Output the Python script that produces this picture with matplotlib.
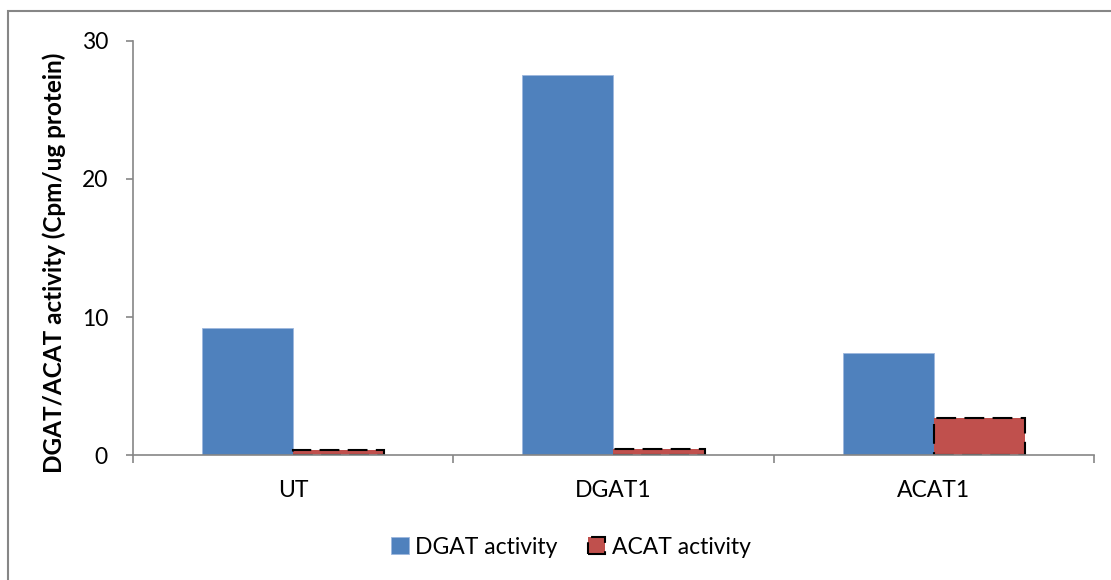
import numpy as np
import matplotlib
matplotlib.use("Agg")
from matplotlib import pyplot as plt
from matplotlib.patches import Rectangle

plt.rcParams['font.family'] = ['Lato', 'DejaVu Sans']

groups = ['UT', 'DGAT1', 'ACAT1']
dgat = [9.23, 27.5, 7.4]
acat = [0.36, 0.45, 2.68]
yticks = [0, 10, 20, 30]

blue = '#4F81BD'
red = '#C0504D'
grey = '#868686'

fig = plt.figure(figsize=(11.11, 5.8), dpi=100)
ax = fig.add_axes([0.1197, 0.215, 0.865, 0.715])

x = np.arange(len(groups))
w = 0.285
ax.bar(x - w / 2, dgat, w, color=blue, edgecolor='#9DB7DD', linewidth=0.6,
       label='DGAT activity')
ax.bar(x + w / 2, acat, w, color=red, edgecolor='black', linewidth=1.5,
       linestyle=(0, (9.5, 4)), label='ACAT activity')

ax.set_xlim(-0.5, 2.5)
ax.set_ylim(0, 30)
ax.set_yticks(yticks)
ax.set_xticks(x)
ax.set_xticklabels(groups)
ax.set_xticks([-0.5, 0.5, 1.5, 2.5], minor=True)

for side in ['top', 'right']:
    ax.spines[side].set_visible(False)
for side in ['left', 'bottom']:
    ax.spines[side].set_color(grey)
    ax.spines[side].set_linewidth(1.2)

ax.tick_params(axis='y', length=5, width=1.2, color=grey, labelsize=16.5, pad=13)
ax.tick_params(axis='x', which='major', length=0, labelsize=16.5, pad=18)
ax.tick_params(axis='x', which='minor', length=6, width=1.2, color=grey)

fig.text(0.0485, 1 - 263 / 580, 'DGAT/ACAT activity (Cpm/ug protein)',
         rotation=90, ha='center', va='center', fontsize=17.5, fontweight='bold')

fig.legend(loc='center', bbox_to_anchor=(571 / 1111, 1 - 547 / 580),
           ncol=2, frameon=False, fontsize=16.5, handlelength=0.75,
           handleheight=0.75, handletextpad=0.3, columnspacing=1.3)

# outer chart border
fig.patches.append(Rectangle((8 / 1111, -0.05), 1.1, 1 - 11 / 580 + 0.05,
                             transform=fig.transFigure, fill=False,
                             edgecolor=grey, linewidth=1.5))

fig.savefig('out.png', dpi=100)
